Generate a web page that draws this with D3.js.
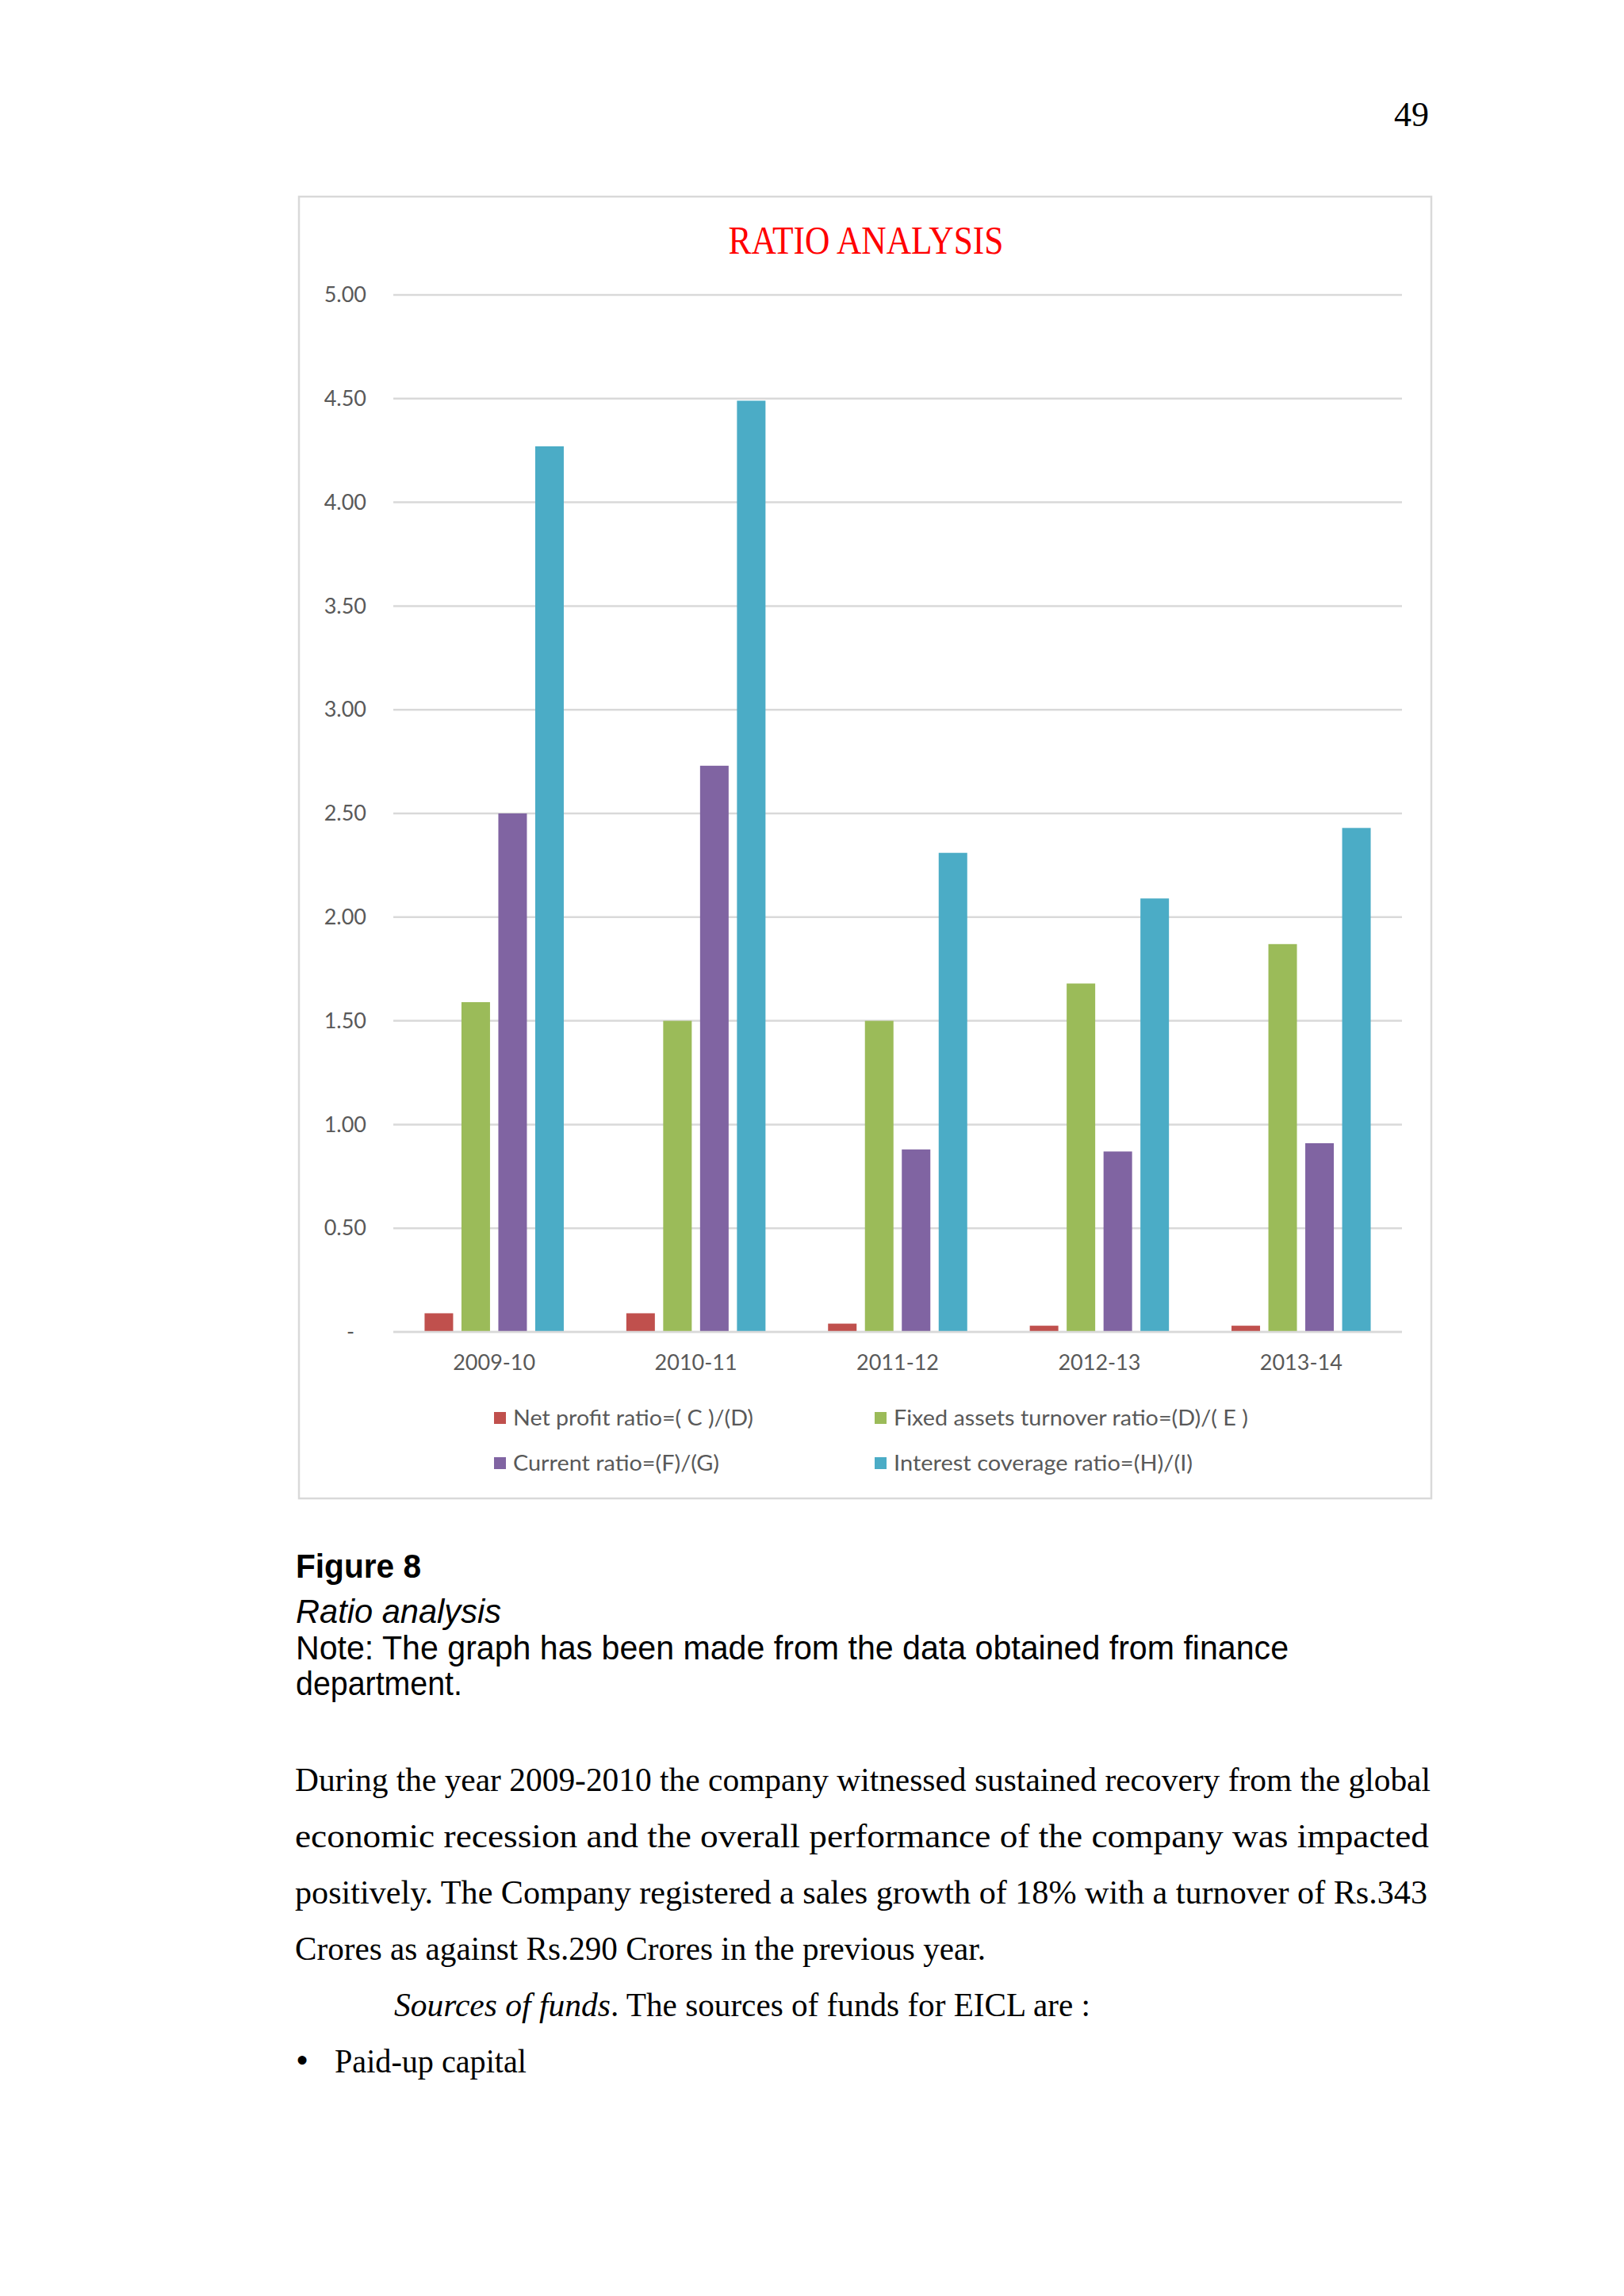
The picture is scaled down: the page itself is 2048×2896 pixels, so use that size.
<!DOCTYPE html>
<meta charset="utf-8">
<script src="https://d3js.org/d3.v7.min.js"></script>
<style>
  body { margin: 0; background: #fff; }
</style>
<div id="my_dataviz"></div>
<script>

// chart data
var years = ["2009-10", "2010-11", "2011-12", "2012-13", "2013-14"];
var seriesNames = [
  "Net profit ratio=( C )/(D)",
  "Fixed assets turnover ratio=(D)/( E )",
  "Current ratio=(F)/(G)",
  "Interest coverage ratio=(H)/(I)"
];
var netProfit     = [0.09, 0.09, 0.04, 0.03, 0.03];
var fixedAssets   = [1.59, 1.50, 1.50, 1.68, 1.87];
var currentRatio  = [2.50, 2.73, 0.88, 0.87, 0.91];
var interestCover = [4.27, 4.49, 2.31, 2.09, 2.43];
var yTicks = [0, 0.5, 1, 1.5, 2, 2.5, 3, 3.5, 4, 4.5, 5];

var colors = ["#C0504D", "#9BBB59", "#8064A2", "#4BACC6"];
var allSeries = [netProfit, fixedAssets, currentRatio, interestCover];

// page text
var bodyLines = [
  "During the year 2009-2010 the company witnessed sustained recovery from the global",
  "economic recession and the overall performance of the company was impacted",
  "positively. The Company registered a sales growth of 18% with a turnover of Rs.343",
  "Crores as against Rs.290 Crores in the previous year."
];

var W = 2048, H = 2896;
var svg = d3.select("#my_dataviz")
  .append("svg")
    .attr("width", W)
    .attr("height", H);

svg.append("rect").attr("width", W).attr("height", H).attr("fill", "#fff");

// helper: text squeezed/stretched to a given width
function fitText(x, y, str, width, opts) {
  var t = svg.append("text")
    .attr("x", x)
    .attr("y", y)
    .attr("font-family", opts.family)
    .attr("font-size", opts.size)
    .attr("font-style", opts.style || "normal")
    .attr("font-weight", opts.weight || "normal")
    .attr("fill", opts.fill || "#000")
    .text(str);
  if (width) t.attr("textLength", width).attr("lengthAdjust", "spacingAndGlyphs");
  return t;
}

// page number
svg.append("text")
  .attr("x", 1802).attr("y", 159)
  .attr("text-anchor", "end")
  .attr("font-family", "Liberation Serif")
  .attr("font-size", 44)
  .text("49");

// chart frame
svg.append("rect")
  .attr("x", 377).attr("y", 248)
  .attr("width", 1428).attr("height", 1642)
  .attr("fill", "#fff")
  .attr("stroke", "#D9D9D9")
  .attr("stroke-width", 2.5);

// title
svg.append("text")
  .attr("x", 1092).attr("y", 320)
  .attr("text-anchor", "middle")
  .attr("font-family", "Liberation Serif")
  .attr("font-size", 50)
  .attr("fill", "#FF0000")
  .attr("textLength", 347)
  .attr("lengthAdjust", "spacingAndGlyphs")
  .text("RATIO ANALYSIS");

// plot area
var plot = {left: 496, right: 1768, top: 372, bottom: 1680};

var y = d3.scaleLinear()
  .domain([0, 5])
  .range([plot.bottom, plot.top]);

var x0 = d3.scaleBand()
  .domain(years)
  .range([plot.left, plot.right])
  .padding(0);

var x1 = d3.scaleBand()
  .domain(d3.range(seriesNames.length))
  .range([0, x0.bandwidth()])
  .paddingInner(0.226)
  .paddingOuter(0.848);

// gridlines
svg.append("g")
  .selectAll("line")
  .data(yTicks)
  .enter()
  .append("line")
    .attr("x1", plot.left)
    .attr("x2", plot.right)
    .attr("y1", function (d) { return y(d); })
    .attr("y2", function (d) { return y(d); })
    .attr("stroke", "#D9D9D9")
    .attr("stroke-width", 2.5);

// y axis labels
var yAxis = svg.append("g")
  .attr("transform", "translate(" + (plot.left - 34) + ",0)")
  .call(d3.axisLeft(y)
    .tickValues(yTicks)
    .tickSize(0)
    .tickPadding(0)
    .tickFormat(function (d) { return d === 0 ? "-" : d.toFixed(2); }));
yAxis.select(".domain").remove();
yAxis.selectAll("text")
  .attr("font-family", "Lato")
  .attr("font-size", 27)
  .attr("fill", "#595959")
  .attr("dx", function (d) { return d === 0 ? -15 : 0; });

// bars
var groups = svg.append("g")
  .selectAll("g")
  .data(years)
  .enter()
  .append("g")
    .attr("transform", function (d) { return "translate(" + x0(d) + ",0)"; });

groups.selectAll("rect")
  .data(function (d, i) { return allSeries.map(function (s, k) { return {k: k, v: s[i]}; }); })
  .enter()
  .append("rect")
    .attr("x", function (d) { return x1(d.k); })
    .attr("y", function (d) { return y(d.v); })
    .attr("width", x1.bandwidth())
    .attr("height", function (d) { return y(0) - y(d.v); })
    .attr("fill", function (d) { return colors[d.k]; });

// baseline
svg.append("line")
  .attr("x1", plot.left).attr("x2", plot.right)
  .attr("y1", y(0)).attr("y2", y(0))
  .attr("stroke", "#D9D9D9")
  .attr("stroke-width", 2.5);

// x axis labels
var xAxis = svg.append("g")
  .attr("transform", "translate(0," + (y(0) + 29) + ")")
  .call(d3.axisBottom(x0).tickSize(0).tickPadding(0));
xAxis.select(".domain").remove();
xAxis.selectAll("text")
  .attr("font-family", "Lato")
  .attr("font-size", 27)
  .attr("fill", "#595959");

// legend
var legendPos = [[623, 1789], [1103, 1789], [623, 1846], [1103, 1846]];
var legendWidths = [303, 447, 260, 377];
var legend = svg.append("g")
  .selectAll("g")
  .data(seriesNames)
  .enter()
  .append("g")
    .attr("transform", function (d, i) { return "translate(" + legendPos[i][0] + "," + legendPos[i][1] + ")"; });
legend.append("rect")
  .attr("x", 0).attr("y", -8)
  .attr("width", 15).attr("height", 15)
  .attr("fill", function (d, i) { return colors[i]; });
legend.append("text")
  .attr("x", 24).attr("y", 0)
  .attr("dy", "0.35em")
  .attr("font-family", "Lato")
  .attr("font-size", 27)
  .attr("fill", "#595959")
  .attr("textLength", function (d, i) { return legendWidths[i]; })
  .attr("lengthAdjust", "spacingAndGlyphs")
  .text(function (d) { return d; });

// caption
var sans = {family: "Liberation Sans", size: 42};
fitText(373, 1990, "Figure 8", 158, {family: "Liberation Sans", size: 42, weight: "bold"});
fitText(373, 2047, "Ratio analysis", 259, {family: "Liberation Sans", size: 42, style: "italic"});
fitText(373, 2093, "Note: The graph has been made from the data obtained from finance", 1252, sans);
fitText(373, 2138, "department.", 210, sans);

// body paragraph
var serif = {family: "Liberation Serif", size: 42};
var bodyWidths = [1432, 1430, 1428, 871];
bodyLines.forEach(function (line, i) {
  fitText(372, 2259 + i * 71, line, bodyWidths[i], serif);
});
fitText(497, 2543, "Sources of funds", 273, {family: "Liberation Serif", size: 42, style: "italic"});
fitText(770, 2543, ". The sources of funds  for EICL are :", 605, serif);

svg.append("text")
  .attr("x", 373).attr("y", 2614)
  .attr("font-family", "Liberation Serif")
  .attr("font-size", 46)
  .text("\u2022");
fitText(422, 2614, "Paid-up capital", 242, serif);

</script>
